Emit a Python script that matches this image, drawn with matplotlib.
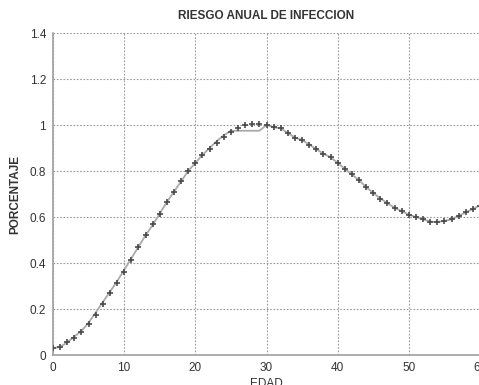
import matplotlib
matplotlib.use("Agg")
import matplotlib.pyplot as plt

ages = list(range(0, 61))
marker_vals = [0.03, 0.035, 0.055, 0.075, 0.10, 0.135, 0.175, 0.22, 0.27, 0.315,
               0.36, 0.415, 0.47, 0.52, 0.57, 0.615, 0.665, 0.71, 0.755, 0.80,
               0.835, 0.87, 0.895, 0.92, 0.95, 0.97, 0.985, 1.0, 1.005, 1.005,
               1.0, 0.99, 0.985, 0.965, 0.945, 0.935, 0.915, 0.895, 0.875, 0.86,
               0.835, 0.81, 0.785, 0.76, 0.73, 0.705, 0.68, 0.66, 0.64, 0.625,
               0.61, 0.60, 0.59, 0.58, 0.578, 0.583, 0.59, 0.605, 0.62, 0.635,
               0.65]
line_vals = [0.03, 0.035, 0.055, 0.08, 0.105, 0.14, 0.185, 0.23, 0.275, 0.32,
             0.37, 0.42, 0.47, 0.52, 0.565, 0.615, 0.665, 0.71, 0.755, 0.80,
             0.835, 0.87, 0.9, 0.93, 0.955, 0.975, 0.975, 0.975, 0.975, 0.975,
             1.0, 0.99, 0.985, 0.965, 0.945, 0.935, 0.915, 0.895, 0.875, 0.86,
             0.835, 0.81, 0.785, 0.76, 0.73, 0.705, 0.68, 0.66, 0.64, 0.625,
             0.61, 0.60, 0.59, 0.58, 0.578, 0.583, 0.59, 0.605, 0.62, 0.635,
             0.65]
xticks = [0, 10, 20, 30, 40, 50, 60]
yticks = [0, 0.2, 0.4, 0.6, 0.8, 1.0, 1.2, 1.4]
ytick_labels = ["0", "0.2", "0.4", "0.6", "0.8", "1", "1.2", "1.4"]

plt.rcParams['font.family'] = ['Liberation Sans', 'DejaVu Sans']
fig = plt.figure(figsize=(4.79, 3.85), dpi=100)
ax = fig.add_axes([53/479, 30/385, 427/479, 322/385])

ax.plot(ages, line_vals, color='#aaaaaa', lw=1.3, zorder=2)
ax.plot(ages, marker_vals, linestyle='none', marker='+', markersize=4.5,
        mew=1.2, color='#4a4a4a', zorder=3)

ax.set_xlim(0, 60)
ax.set_ylim(0, 1.4)
ax.set_xticks(xticks)
ax.set_yticks(yticks)
ax.set_yticklabels(ytick_labels)
ax.grid(True, linestyle=(0, (1.5, 1.5)), color='#999999', lw=0.8)
ax.set_axisbelow(True)
for s in ['top', 'right']:
    ax.spines[s].set_visible(False)
for s in ['left', 'bottom']:
    ax.spines[s].set_color('#a0a0a0')
    ax.spines[s].set_linewidth(1.2)
ax.tick_params(direction='in', length=0, labelsize=8.5, colors='#333333', pad=5)

ax.set_title('RIESGO ANUAL DE INFECCION', fontsize=8.5, color='#333333',
             fontweight='semibold', pad=10)
ax.set_xlabel('EDAD', fontsize=8.5, color='#333333', labelpad=3)
ax.set_ylabel('PORCENTAJE', fontsize=8.5, color='#333333', fontweight='bold',
              labelpad=6)

fig.savefig('out.png', dpi=100)
